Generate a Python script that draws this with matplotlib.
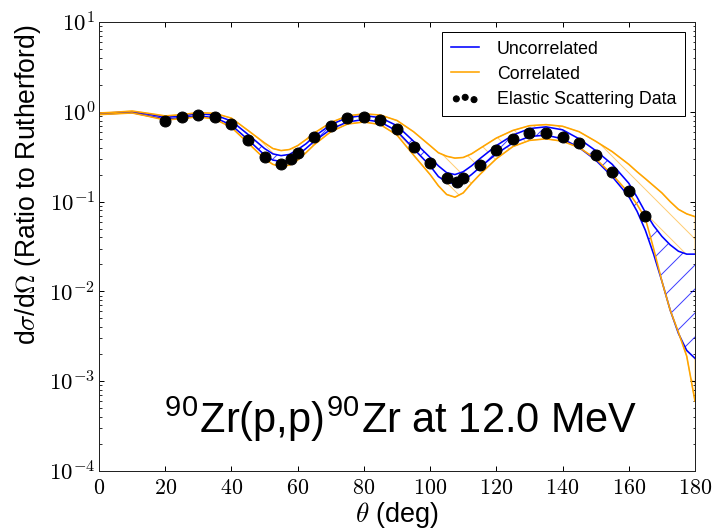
import numpy as np
import matplotlib
matplotlib.use("Agg")
import matplotlib.pyplot as plt
from matplotlib.ticker import FuncFormatter, LogLocator, FixedLocator

plt.rcParams['font.family'] = ['Liberation Sans', 'DejaVu Sans']
plt.rcParams['mathtext.fontset'] = 'cm'
plt.rcParams['hatch.linewidth'] = 1.0

# ---- data ----
theta = [0, 5, 10, 15, 20, 25, 30, 35, 40, 45, 50, 52.5, 55, 57.5, 60, 62.5, 65, 70, 75,
         80, 85, 90, 95, 100, 102.5, 105, 107.5, 110, 112.5, 115, 120, 125, 130, 135,
         140, 145, 150, 155, 160, 162.5, 165, 167.5, 170, 172.5, 175, 177.5, 180]

unc_hi = [0.96, 0.98, 1.0, 0.94, 0.87, 0.9, 0.95, 0.92, 0.79, 0.56, 0.39, 0.34, 0.325, 0.335,
          0.38, 0.44, 0.53, 0.72, 0.86, 0.91, 0.86, 0.7, 0.47, 0.31, 0.25, 0.21, 0.2, 0.215,
          0.25, 0.3, 0.42, 0.55, 0.65, 0.68, 0.63, 0.5, 0.37, 0.26, 0.16, 0.112, 0.076, 0.054,
          0.041, 0.033, 0.028, 0.026, 0.026]
unc_lo = [0.94, 0.96, 0.98, 0.9, 0.83, 0.86, 0.9, 0.86, 0.71, 0.49, 0.33, 0.29, 0.28, 0.29,
          0.33, 0.39, 0.47, 0.64, 0.77, 0.82, 0.77, 0.61, 0.39, 0.25, 0.19, 0.165, 0.158, 0.17,
          0.2, 0.24, 0.34, 0.45, 0.53, 0.55, 0.5, 0.4, 0.29, 0.19, 0.114, 0.078, 0.048, 0.026,
          0.013, 0.0062, 0.0034, 0.0022, 0.0018]
cor_hi = [0.97, 0.99, 1.02, 0.96, 0.9, 0.93, 0.98, 0.96, 0.85, 0.62, 0.45, 0.39, 0.37, 0.38,
          0.42, 0.49, 0.58, 0.76, 0.9, 0.95, 0.92, 0.8, 0.6, 0.42, 0.35, 0.32, 0.305, 0.31,
          0.34, 0.39, 0.51, 0.62, 0.7, 0.72, 0.69, 0.6, 0.47, 0.36, 0.26, 0.215, 0.18, 0.15,
          0.125, 0.1, 0.082, 0.073, 0.068]
cor_lo = [0.93, 0.95, 0.97, 0.89, 0.81, 0.84, 0.88, 0.83, 0.67, 0.45, 0.3, 0.26, 0.245, 0.255,
          0.29, 0.35, 0.43, 0.6, 0.73, 0.77, 0.72, 0.55, 0.33, 0.2, 0.15, 0.12, 0.112, 0.125,
          0.16, 0.2, 0.3, 0.41, 0.48, 0.5, 0.47, 0.4, 0.3, 0.2, 0.125, 0.093, 0.065, 0.03,
          0.013, 0.0062, 0.0035, 0.0019, 0.0006]

data_theta = [20, 25, 30, 35, 40, 45, 50, 55, 58, 60, 65, 70, 75, 80, 85, 90, 95, 100,
              105, 108, 110, 115, 120, 125, 130, 135, 140, 145, 150, 155, 160, 165]
data_ratio = [0.78, 0.875, 0.93, 0.87, 0.73, 0.48, 0.31, 0.26, 0.30, 0.345, 0.53, 0.70,
              0.85, 0.87, 0.81, 0.64, 0.41, 0.27, 0.183, 0.167, 0.183, 0.256, 0.376, 0.494,
              0.576, 0.585, 0.528, 0.446, 0.33, 0.213, 0.132, 0.069]

xticks = [0, 20, 40, 60, 80, 100, 120, 140, 160, 180]

dpi = 72
fig = plt.figure(figsize=(712 / dpi, 529 / dpi), dpi=dpi)
ax = fig.add_axes([99 / 712, 1 - 471 / 529, 596 / 712, 449 / 529])

# correlated band (orange, sparse hatch), then uncorrelated band on top (white face)
ax.fill_between(theta, cor_lo, cor_hi, facecolor='none', edgecolor='orange',
                hatch='\\', linewidth=1.0, alpha=0.55, zorder=1)
ax.fill_between(theta, unc_lo, unc_hi, facecolor='white', edgecolor='none', zorder=1.5)
ax.fill_between(theta, unc_lo, unc_hi, facecolor='none', edgecolor='blue',
                hatch='/', linewidth=0, alpha=0.75, zorder=2)
ax.plot(theta, unc_hi, color='blue', lw=1.6, label='Uncorrelated', zorder=3)
ax.plot(theta, unc_lo, color='blue', lw=1.6, zorder=3)
ax.plot(theta, cor_hi, color='orange', lw=1.6, label='Correlated', zorder=3.5)
ax.plot(theta, cor_lo, color='orange', lw=1.6, zorder=3.5)
ax.scatter(data_theta, data_ratio, s=120, color='black', zorder=5,
           label='Elastic Scattering Data')

ax.set_yscale('log')
ax.set_xlim(0, 180)
ax.set_ylim(1e-4, 1e1)
ax.xaxis.set_major_locator(FixedLocator(xticks))
ax.xaxis.set_major_formatter(FuncFormatter(lambda v, p: r'$%d$' % v))
ax.yaxis.set_major_locator(LogLocator(base=10, numticks=10))
ax.yaxis.set_major_formatter(FuncFormatter(lambda v, p: r'$10^{%d}$' % int(round(np.log10(v)))))
ax.yaxis.set_minor_locator(LogLocator(base=10, subs=np.arange(2, 10), numticks=20))
ax.tick_params(which='both', direction='in', top=True, right=True)
ax.tick_params(axis='x', labelsize=22, pad=7)
ax.tick_params(axis='y', labelsize=23, pad=4)
ax.tick_params(which='major', length=5, width=1)
ax.tick_params(which='minor', length=2.5, width=0.8)
for sp in ax.spines.values():
    sp.set_linewidth(1.0)
    sp.set_color('#222222')
    sp.set_zorder(6)

ax.set_xlabel(r'$\theta$ (deg)', fontsize=27)
ax.set_ylabel(r'd$\sigma$/d$\Omega$ (Ratio to Rutherford)', fontsize=26.5)
ax.xaxis.set_label_coords(0.5, -0.064)
ax.yaxis.set_label_coords(-0.094, 0.637)

ax.text(0.107, 0.085, r'$^{\mathregular{90}}$Zr(p,p)$^{\mathregular{90}}$Zr at 12.0 MeV',
        transform=ax.transAxes, fontsize=41.5, ha='left', va='baseline')

leg = ax.legend(loc='upper right', fontsize=17.7, scatterpoints=3,
                scatteryoffsets=[0.375, 0.5, 0.3125], markerscale=0.55,
                fancybox=False, framealpha=1, borderaxespad=0.55, handlelength=1.6,
                handletextpad=1.0, labelspacing=0.45, borderpad=0.5)
leg.get_frame().set_edgecolor('black')
leg.get_frame().set_linewidth(1.0)
leg.set_zorder(7)

fig.savefig('out.png', dpi=dpi)
